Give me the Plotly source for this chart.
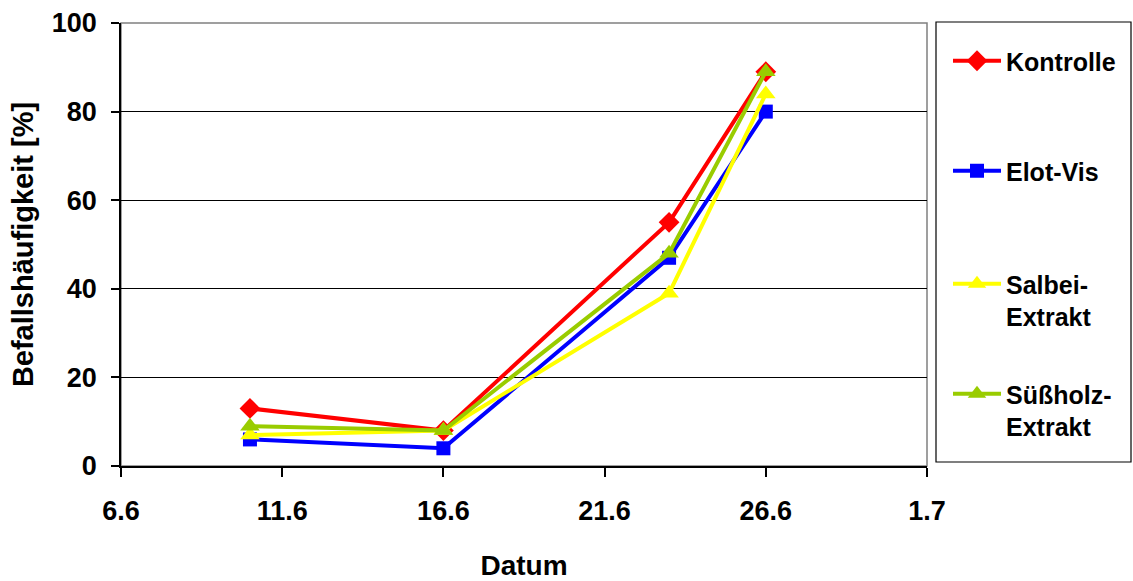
import plotly.graph_objects as go

dates = ["2003-06-10", "2003-06-16", "2003-06-23", "2003-06-26"]
kontrolle = [13, 8, 55, 89]
elot_vis = [6, 4, 47, 80]
salbei = [7, 8, 39, 84]
suessholz = [9, 8, 48, 89]

tick_dates = ["2003-06-06", "2003-06-11", "2003-06-16", "2003-06-21", "2003-06-26", "2003-07-01"]
tick_labels = ["6.6", "11.6", "16.6", "21.6", "26.6", "1.7"]
y_ticks = [0, 20, 40, 60, 80, 100]

series = [
    ("Kontrolle", kontrolle, "#FF0000", "diamond", 16),
    ("Elot-Vis", elot_vis, "#0000FF", "square", 14),
    ("Salbei-<br>Extrakt", salbei, "#FFFF00", "triangle-up", 17),
    ("Süßholz-<br>Extrakt", suessholz, "#99CC00", "triangle-up", 17),
]

W, H = 1133, 581

# plot area in pixels: x 121..927, y 23..466
def py(p):
    return (466 - p) / 443

legend_centers = [61, 171, 300, 410]
legend_ids = ["legend", "legend2", "legend3", "legend4"]

font_family = "Liberation Sans, Arial, sans-serif"
legend_font = dict(family=font_family, size=25, color="black", weight="bold")

fig = go.Figure()
for i, (name, vals, col, sym, sz) in enumerate(series):
    fig.add_trace(go.Scatter(
        x=dates, y=vals, name=name, mode="lines+markers",
        line=dict(color=col, width=4),
        marker=dict(color=col, symbol=sym, size=sz),
        legend=legend_ids[i],
    ))

legend_cfg = {}
for lid, c in zip(legend_ids, legend_centers):
    legend_cfg[lid] = dict(
        xref="container", yref="container",
        x=948 / W, y=1 - c / H, xanchor="left", yanchor="middle",
        valign="top", itemwidth=48, font=legend_font,
        bgcolor="rgba(0,0,0,0)", borderwidth=0,
    )

fig.update_layout(
    width=W, height=H,
    margin=dict(l=121, r=206, t=23, b=115, autoexpand=False),
    paper_bgcolor="white", plot_bgcolor="white",
    font=dict(family=font_family, size=27, color="black", weight="bold"),
    showlegend=True,
    xaxis=dict(
        type="date", automargin=False,
        range=[tick_dates[0], tick_dates[-1]],
        tickmode="array", tickvals=tick_dates, ticktext=tick_labels,
        showgrid=False, zeroline=False,
        showline=True, linecolor="black", linewidth=1.5,
        ticks="outside", ticklen=9, tickcolor="black", tickwidth=1.5,
        ticklabelstandoff=11,
        title=dict(text="Datum", standoff=31, font=dict(size=28)),
        tickfont=dict(size=27),
    ),
    yaxis=dict(
        range=[0, 100], tickmode="array", tickvals=y_ticks, automargin=False,
        showgrid=True, gridcolor="black", gridwidth=1,
        zeroline=False,
        showline=True, linecolor="black", linewidth=1.5,
        ticks="outside", ticklen=8, tickcolor="black", tickwidth=1.5,
        ticklabelstandoff=9,
        title=dict(text="Befallshäufigkeit [%]", standoff=10, font=dict(size=29)),
        tickfont=dict(size=27),
    ),
    shapes=[
        dict(type="rect", xref="paper", yref="paper", x0=0, x1=1, y0=0, y1=1,
             line=dict(color="#808080", width=1.5), layer="below"),
        dict(type="rect", xref="paper", yref="paper",
             x0=(936 - 121) / 806, x1=(1131 - 121) / 806,
             y0=py(462), y1=py(22),
             line=dict(color="black", width=1.2)),
    ],
    **legend_cfg,
)

fig.write_html(
    "out.html",
    config={"displayModeBar": False},
    post_script="document.body.style.margin='0';document.body.style.padding='0';",
)
